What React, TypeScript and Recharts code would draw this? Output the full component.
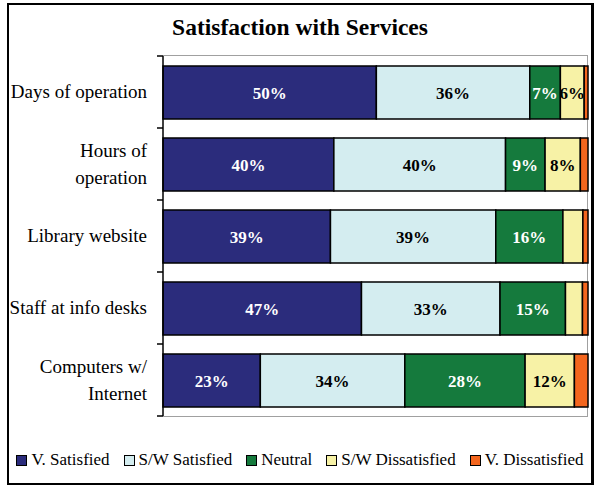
import React from 'react';
import { BarChart, Bar, XAxis, YAxis, LabelList } from 'recharts';

const categories = [
    'Days of operation',
    'Hours of\noperation',
    'Library website',
    'Staff at info desks',
    'Computers w/\nInternet',
];
const vSatisfied = [50.2, 40.2, 39.4, 46.7, 22.9];
const swSatisfied = [36.1, 40.4, 38.9, 32.6, 34.0];
const neutral = [7.2, 9.3, 15.8, 15.4, 28.3];
const swDissatisfied = [5.6, 8.3, 4.7, 4.0, 11.6];
const vDissatisfied = [0.9, 1.8, 1.2, 1.3, 3.2];

const series = [
    { key: 'vSat', name: 'V. Satisfied', color: '#2B2C7C', labelColor: '#ffffff', values: vSatisfied },
    { key: 'swSat', name: 'S/W Satisfied', color: '#D4EDF0', labelColor: '#000000', values: swSatisfied },
    { key: 'neutral', name: 'Neutral', color: '#157A3D', labelColor: '#ffffff', values: neutral },
    { key: 'swDis', name: 'S/W Dissatisfied', color: '#F7F2A6', labelColor: '#000000', values: swDissatisfied },
    { key: 'vDis', name: 'V. Dissatisfied', color: '#F4661E', labelColor: '#000000', values: vDissatisfied },
];

const chartData = categories.map((name, i) => {
    const row: Record<string, string | number> = { name };
    series.forEach((s) => {
        row[s.key] = s.values[i];
    });
    return row;
});

const FONT = '"Liberation Serif", "Times New Roman", serif';
const TICK_SIZE = 6;
const TICK_MARGIN = 10;

function CategoryTick(props: any) {
    const { x, y, payload, index } = props;
    const lines = String(payload.value).split('\n');
    const axisX = x + TICK_SIZE + TICK_MARGIN;
    const half = payload.offset || 36;
    const lineH = 27;
    const startDy = (-(lines.length - 1) * lineH) / 2;
    return (
        <g>
            <line x1={axisX - TICK_SIZE} x2={axisX} y1={y - half} y2={y - half} stroke="#000" strokeWidth={1.5} />
            {index === categories.length - 1 && (
                <line x1={axisX - TICK_SIZE} x2={axisX} y1={y + half} y2={y + half} stroke="#000" strokeWidth={1.5} />
            )}
            <text x={x} y={y + 6} textAnchor="end" fontFamily={FONT} fontSize={19} fill="#000">
                {lines.map((l, i) => (
                    <tspan key={i} x={x} dy={i === 0 ? startDy : lineH}>
                        {l}
                    </tspan>
                ))}
            </text>
        </g>
    );
}

const renderLabel = (color: string) => (props: any) => {
    const { x, y, width, height, value } = props;
    if (value == null || value < 5.5) return null;
    return (
        <text
            x={x + width / 2}
            y={y + height / 2 + 6}
            textAnchor="middle"
            fill={color}
            fontFamily={FONT}
            fontWeight="bold"
            fontSize={17}
        >
            {Math.round(value)}%
        </text>
    );
};

export default function App() {
    return (
        <div
            style={{
                position: 'absolute',
                left: 7,
                top: 3,
                width: 582,
                height: 478,
                border: '2px solid #000',
                borderRight: '3px solid #000',
                background: '#fff',
                fontFamily: FONT,
            }}
        >
            <div
                style={{
                    position: 'absolute',
                    top: 8,
                    left: 0,
                    width: '100%',
                    height: 28,
                    lineHeight: '28px',
                    textAlign: 'center',
                    fontSize: 23.5,
                    fontWeight: 'bold',
                }}
            >
                Satisfaction with Services
            </div>
            {/* plot area frame */}
            <div
                style={{
                    position: 'absolute',
                    left: 154,
                    top: 50,
                    width: 424,
                    height: 360,
                    borderTop: '1px solid #a0a0a0',
                    borderRight: '1px solid #a0a0a0',
                    borderBottom: '1px solid #a0a0a0',
                }}
            />
            <div style={{ position: 'absolute', left: 0, top: 0 }}>
                <BarChart
                    width={582}
                    height={478}
                    data={chartData}
                    layout="vertical"
                    margin={{ top: 51, right: 3, bottom: 67, left: 0 }}
                >
                    <XAxis type="number" domain={[0, 100]} hide />
                    <YAxis
                        type="category"
                        dataKey="name"
                        width={154}
                        axisLine={{ stroke: '#000', strokeWidth: 1.5 }}
                        tickLine={false}
                        tickSize={TICK_SIZE}
                        tickMargin={TICK_MARGIN}
                        tick={<CategoryTick />}
                        interval={0}
                    />
                    {series.map((s) => (
                        <Bar
                            key={s.key}
                            dataKey={s.key}
                            name={s.name}
                            stackId="a"
                            fill={s.color}
                            stroke="#000"
                            strokeWidth={1.5}
                            barSize={53}
                            isAnimationActive={false}
                        >
                            <LabelList dataKey={s.key} content={renderLabel(s.labelColor)} />
                        </Bar>
                    ))}
                </BarChart>
            </div>
            <div
                style={{
                    position: 'absolute',
                    top: 445,
                    left: 0,
                    width: '100%',
                    height: 20,
                    display: 'flex',
                    justifyContent: 'center',
                    alignItems: 'center',
                    gap: 14,
                    fontSize: 17,
                    lineHeight: '20px',
                }}
            >
                {series.map((s) => (
                    <div key={s.key} style={{ display: 'flex', alignItems: 'center' }}>
                        <span
                            style={{
                                display: 'inline-block',
                                width: 9,
                                height: 9,
                                background: s.color,
                                border: '1px solid #000',
                                marginRight: 4,
                            }}
                        />
                        <span>{s.name}</span>
                    </div>
                ))}
            </div>
        </div>
    );
}
